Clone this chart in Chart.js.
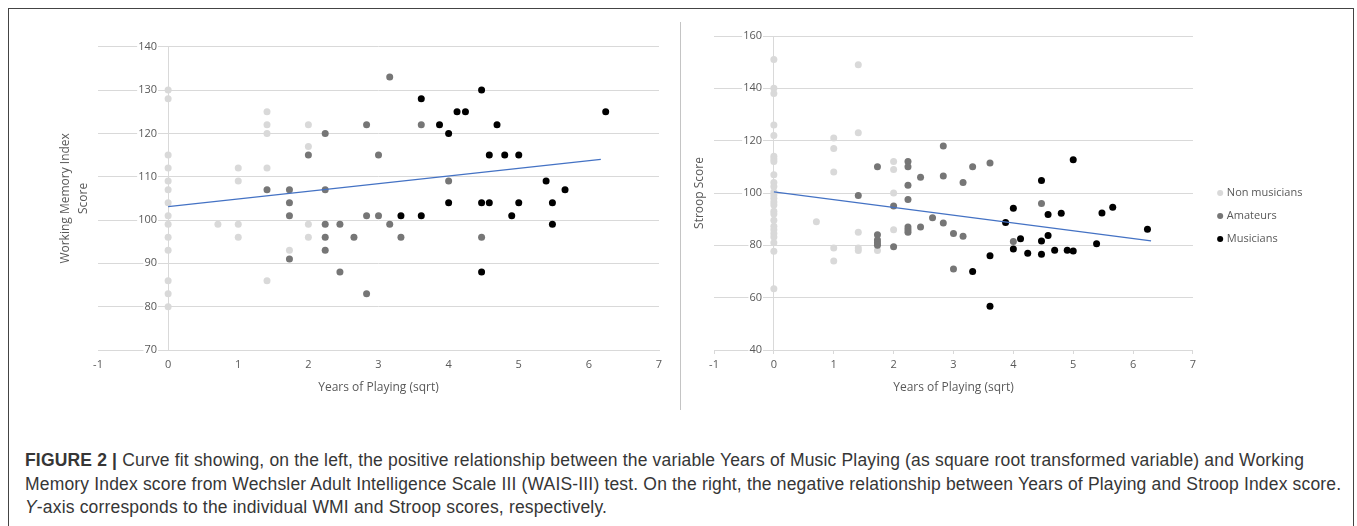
<!DOCTYPE html>
<html lang="en">
<head>
  <meta charset="UTF-8" />
  <title>Figure 2 - Years of Playing</title>
  <script src="https://cdn.jsdelivr.net/npm/chart.js"></script>
  <style>
    body { margin: 0; background: #fff; }
    .page { position: relative; width: 1357px; height: 526px; overflow: hidden; }
    .frame { position: absolute; left: 8px; top: 8px; width: 1344px; height: 540px; border: 1px solid #444; }
    .divider { position: absolute; left: 680px; top: 22px; width: 1px; height: 388px; background: #c4c4c4; }
    #wmiChart { position: absolute; left: 0; top: 0; }
    #stroopChart { position: absolute; left: 680px; top: 0; }
    .caption {
      position: absolute; left: 25px; top: 449px;
      font-family: "Liberation Sans", Arial, sans-serif; font-size: 17.5px; letter-spacing: 0.17px; line-height: 23.5px;
      color: #363636; white-space: nowrap;
    }
  </style>
</head>
<body>
  <div class="page">
    <div class="frame"></div>
    <div class="divider"></div>
    <canvas id="wmiChart" width="680" height="420"></canvas>
    <canvas id="stroopChart" width="677" height="420"></canvas>
    <div class="caption">
      <b>FIGURE 2 |</b> Curve fit showing, on the left, the positive relationship between the variable Years of Music Playing (as square root transformed variable) and Working<br>
      Memory Index score from Wechsler Adult Intelligence Scale III (WAIS-III) test. On the right, the negative relationship between Years of Playing and Stroop Index score.<br>
      <i>Y</i>-axis corresponds to the individual WMI and Stroop scores, respectively.
    </div>
  </div>

  <script>
    // groups
    const groups = ['Non musicians', 'Amateurs', 'Musicians'];
    const groupColors = ['#d9d9d9', '#767676', '#000000'];

    // Working Memory Index (left)
    const wmiNonX = [0, 0, 0, 0, 0, 0, 0, 0, 0, 0, 0, 0, 0, 0, 0.71, 1, 1, 1, 1, 1.41, 1.41, 1.41, 1.41, 1.41, 1.73, 2, 2, 2, 2];
    const wmiNonY = [130, 128, 115, 112, 109, 107, 104, 101, 99, 96, 93, 86, 83, 80, 99, 112, 109, 99, 96, 125, 122, 120, 112, 86, 93, 122, 117, 99, 96];
    const wmiAmaX = [1.41, 1.73, 1.73, 1.73, 1.73, 2, 2.24, 2.24, 2.24, 2.24, 2.24, 2.45, 2.45, 2.65, 2.83, 2.83, 2.83, 3, 3, 3.16, 3.16, 3.32, 3.61, 4, 4.47];
    const wmiAmaY = [107, 107, 104, 101, 91, 115, 120, 107, 99, 96, 93, 99, 88, 96, 122, 101, 83, 115, 101, 133, 99, 96, 122, 109, 96];
    const wmiMusX = [3.32, 3.61, 3.61, 3.87, 4, 4, 4.12, 4.24, 4.47, 4.47, 4.47, 4.58, 4.58, 4.69, 4.8, 4.9, 5, 5, 5.39, 5.48, 5.48, 5.66, 6.24];
    const wmiMusY = [101, 128, 101, 122, 120, 104, 125, 125, 130, 104, 88, 115, 104, 122, 115, 101, 115, 104, 109, 104, 99, 107, 125];
    const wmiTrendX = [0, 6.17];
    const wmiTrendY = [103.1, 114];

    // Stroop (right)
    const stroopNonX = [0, 0, 0, 0, 0, 0, 0, 0, 0, 0, 0, 0, 0, 0, 0, 0, 0, 0, 0, 0, 0, 0, 0, 0, 0, 0,
                        0.71, 1, 1, 1, 1, 1, 1.41, 1.41, 1.41, 1.41, 1.41, 1.73, 2, 2, 2, 2];
    const stroopNonY = [151, 140, 138, 126, 122, 114, 113, 112, 107, 104, 102.5, 100.4, 99.2, 98, 96.6, 95.4, 93, 92, 89.6, 87.3, 86, 84.5, 83.2, 81, 77.7, 63.4,
                        89, 121, 117, 108, 79, 74, 149, 123, 85, 79, 78, 78, 112, 109, 100, 86];
    const stroopAmaX = [1.41, 1.73, 1.73, 1.73, 1.73, 1.73, 2, 2, 2.24, 2.24, 2.24, 2.24, 2.24, 2.24, 2.24, 2.45, 2.45, 2.65, 2.83, 2.83, 2.83, 3, 3, 3.16, 3.16, 3.32, 3.61, 4, 4.47];
    const stroopAmaY = [99, 110, 84, 82, 81, 80, 95, 79.5, 112, 110, 103, 97.5, 87, 86, 85, 106, 87, 90.5, 118, 106.5, 88.5, 84.5, 71, 104, 83.5, 110, 111.5, 81.5, 96];
    const stroopMusX = [3.32, 3.61, 3.61, 3.87, 4, 4, 4.12, 4.24, 4.47, 4.47, 4.47, 4.58, 4.58, 4.69, 4.8, 4.9, 5, 5, 5.39, 5.48, 5.66, 6.24];
    const stroopMusY = [70, 76, 56.7, 88.7, 94.2, 78.6, 82.5, 77, 104.8, 81.7, 76.6, 91.8, 83.8, 78.1, 92.3, 78.1, 112.7, 77.8, 80.6, 92.4, 94.6, 86.1];
    const stroopTrendX = [0, 6.3];
    const stroopTrendY = [100.4, 81.7];

    const xTitle = 'Years of Playing (sqrt)';
    const fontFamily = "'Open Sans', sans-serif";
    const textColor = '#595959';
    const gridColor = '#d9d9d9';

    function toPoints(xs, ys) {
      return xs.map((x, i) => ({ x: x, y: ys[i] }));
    }

    function textWidth(str, size) {
      const ctx = document.createElement('canvas').getContext('2d');
      ctx.font = size + 'px ' + fontFamily;
      return ctx.measureText(str).width;
    }

    function buildDatasets(sets, trendX, trendY) {
      const ds = sets.map((s, i) => ({
        label: groups[i],
        data: toPoints(s[0], s[1]),
        backgroundColor: groupColors[i],
        borderColor: groupColors[i],
        borderWidth: 0,
        pointRadius: 3.5,
        pointHoverRadius: 3.5,
        order: 3 - i
      }));
      ds.push({
        label: 'trend',
        data: toPoints(trendX, trendY),
        showLine: true,
        borderColor: '#4472c4',
        borderWidth: 1.2,
        pointRadius: 0,
        order: 0
      });
      return ds;
    }

    // labelRight: where the right edge of y tick labels should sit, measured from the plot's left edge
    function buildOptions(cfg) {
      const labelPad = cfg.labelRight - textWidth(String(cfg.yMax), 11);
      const scales = {
        x: {
          type: 'linear',
          min: -1, max: 7,
          ticks: { stepSize: 1, color: textColor, font: { family: fontFamily, size: 11 }, padding: 4.4 },
          grid: {
            color: ctx => (ctx.tick && ctx.tick.value === 0 ? gridColor : 'rgba(0,0,0,0)'),
            tickColor: cfg.xTickColor,
            tickLength: 4
          },
          border: { display: true, color: gridColor },
          title: {
            display: true, text: xTitle, color: textColor,
            font: { family: fontFamily, size: 12, lineHeight: 1.2 },
            padding: { top: 0, bottom: cfg.xTitlePad }
          },
          afterFit: s => { s.height = cfg.xHeight; }
        },
        y: {
          type: 'linear',
          position: 'left',
          min: cfg.yMin, max: cfg.yMax,
          ticks: {
            stepSize: cfg.yStep, color: textColor, font: { family: fontFamily, size: 11 },
            mirror: true, crossAlign: 'far', padding: labelPad,
            showLabelBackdrop: true, backdropColor: '#ffffff', backdropPadding: { x: 1, y: 0 }
          },
          grid: { color: gridColor, drawTicks: false },
          border: { display: false },
          title: {
            display: true, text: cfg.yTitle, color: textColor,
            font: { family: fontFamily, size: 12, lineHeight: 1.45 },
            padding: { top: cfg.yTitlePad, bottom: 0 }
          },
          afterFit: s => { s.width = cfg.yWidth; }
        }
      };
      if (cfg.gapWidth) {
        scales.gap = {
          type: 'linear', position: 'right', display: true,
          grid: { display: false }, ticks: { display: false }, border: { display: false },
          afterFit: s => { s.width = cfg.gapWidth; }
        };
      }
      return {
        responsive: false,
        animation: false,
        devicePixelRatio: 1,
        layout: { padding: cfg.padding },
        scales: scales,
        plugins: {
          tooltip: { enabled: false },
          legend: cfg.legend
        }
      };
    }

    // left chart
    new Chart(document.getElementById('wmiChart'), {
      type: 'scatter',
      data: {
        datasets: buildDatasets([[wmiNonX, wmiNonY], [wmiAmaX, wmiAmaY], [wmiMusX, wmiMusY]], wmiTrendX, wmiTrendY)
      },
      options: buildOptions({
        yMin: 70, yMax: 140, yStep: 10,
        yTitle: ['Working Memory Index', 'Score'],
        yTitlePad: 7, yWidth: 48, labelRight: 59,
        xHeight: 50, xTitlePad: 5, xTickColor: 'rgba(0,0,0,0)',
        padding: { left: 50, right: 21, top: 36, bottom: 20 },
        legend: { display: false }
      })
    });

    // right chart, with legend on the right
    const legendPad = 12, legendBox = 2.4, legendFont = 11;
    const legendWidth = legendPad + legendBox + legendFont / 2 + textWidth(groups[0], legendFont) + 10;
    const gapWidth = 14;
    const stroopRight = 677 - 511 - gapWidth - legendWidth;

    new Chart(document.getElementById('stroopChart'), {
      type: 'scatter',
      data: {
        datasets: buildDatasets([[stroopNonX, stroopNonY], [stroopAmaX, stroopAmaY], [stroopMusX, stroopMusY]], stroopTrendX, stroopTrendY)
      },
      options: buildOptions({
        yMin: 40, yMax: 160, yStep: 20,
        yTitle: 'Stroop Score',
        yTitlePad: 2, yWidth: 24.7, labelRight: 48,
        xHeight: 46, xTitlePad: 1.3, xTickColor: gridColor,
        padding: { left: 9.3, right: stroopRight, top: 36, bottom: 24 },
        gapWidth: gapWidth,
        legend: {
          display: true,
          position: 'right',
          labels: {
            usePointStyle: true,
            pointStyle: 'circle',
            boxWidth: legendBox,
            boxHeight: 4.3,
            padding: legendPad,
            color: textColor,
            font: { family: fontFamily, size: legendFont },
            filter: item => item.text !== 'trend',
            sort: (a, b) => a.datasetIndex - b.datasetIndex
          }
        }
      })
    });
  </script>
</body>
</html>
